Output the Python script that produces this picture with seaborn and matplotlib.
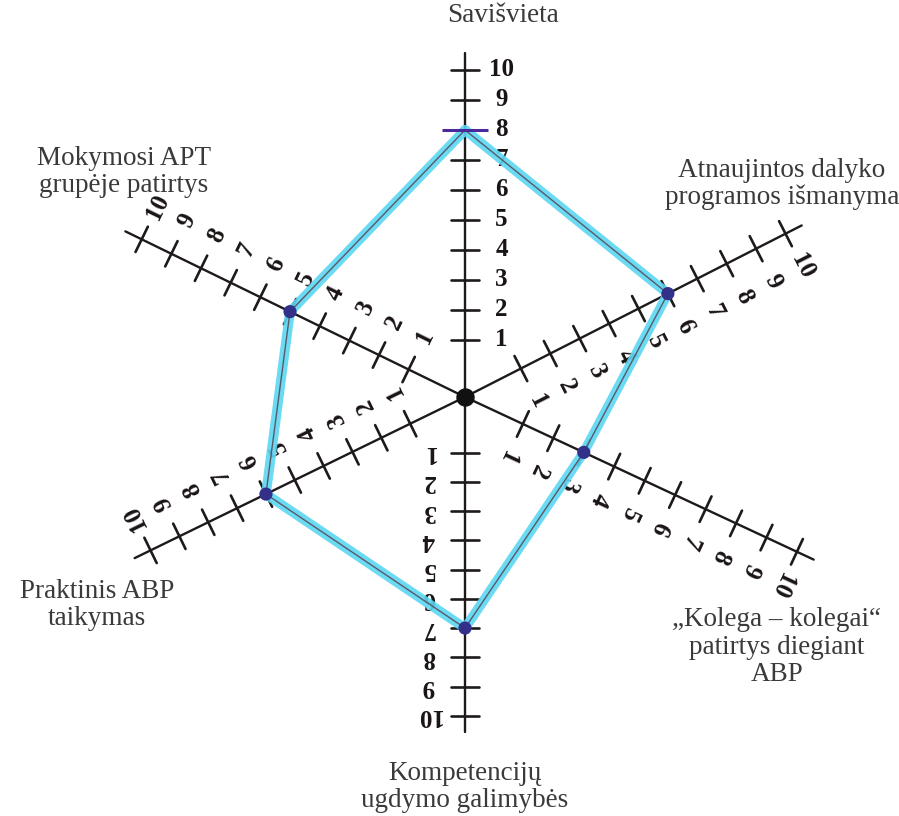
import numpy as np
import pandas as pd
import matplotlib
matplotlib.use("Agg")
import matplotlib.pyplot as plt
import seaborn as sns

# ---- data ----
categories = [
    "Savišvieta",
    "Atnaujintos dalyko\nprogramos išmanyma",
    "\u201eKolega \u2013 kolegai\u201c\npatirtys diegiant\nABP",
    "Kompetencijų\nugdymo galimybės",
    "Praktinis ABP\ntaikymas",
    "Mokymosi APT\ngrupėje patirtys",
]
values = [8, 6, 3, 7, 6, 5]
tick_values = [1, 2, 3, 4, 5, 6, 7, 8, 9, 10]

# ---- layout (hand-drawn axis directions / stretch) ----
angles_deg = [90, 27, -25, -90, 206, 154]
axis_stretch = [1.0, 1.1, 1.12, 0.975, 1.07, 1.1]
r_offset = 0.9          # tick "1" sits a bit away from centre
axis_end = 11.45
tick_half = 0.47
label_off = 1.22
PX = 30.0               # pixels per unit
cx, cy = 465, 397       # centre in image px
W, H = 899, 816
label_pos_px = [(503, 15), (782, 184), (777, 647), (465, 787), (97, 605), (124, 172)]

sns.set_theme(style="white")
plt.rcParams["font.family"] = ["Liberation Serif", "DejaVu Serif"]

fig = plt.figure(figsize=(W / 100, H / 100), dpi=100)
ax = fig.add_axes([0, 0, 1, 1])
ax.set_xlim(-cx / PX, (W - cx) / PX)
ax.set_ylim(-(H - cy) / PX, cy / PX)
ax.set_aspect("equal")
ax.axis("off")

axis_col = "#1e1a1a"
for th_deg, k in zip(angles_deg, axis_stretch):
    th = np.deg2rad(th_deg)
    u = np.array([np.cos(th), np.sin(th)])
    p = np.array([-np.sin(th), np.cos(th)])  # CCW perpendicular
    end = axis_end * k
    ax.plot([0, end * u[0]], [0, end * u[1]], color=axis_col, lw=1.7, zorder=2)
    for t in tick_values:
        c = (t + r_offset) * k * u
        a = c + tick_half * p
        b = c - tick_half * p
        ax.plot([a[0], b[0]], [a[1], b[1]], color=axis_col, lw=1.9, zorder=2)
        lp = c - label_off * p  # clockwise side
        ax.text(lp[0], lp[1], str(t), rotation=th_deg - 90, rotation_mode="anchor",
                ha="center", va="center", fontsize=18, fontweight="bold",
                color="#1a1414", zorder=3)

# centre dot
ax.scatter([0], [0], s=150, color="#111111", zorder=6)

# data polygon
th = np.deg2rad(angles_deg)
r = (np.array(values) + r_offset) * np.array(axis_stretch)
df = pd.DataFrame({
    "category": categories,
    "x": r * np.cos(th),
    "y": r * np.sin(th),
})
df_closed = pd.concat([df, df.iloc[[0]]], ignore_index=True)

sns.lineplot(data=df_closed, x="x", y="y", sort=False, estimator=None,
             color="#5bd6f2", lw=7, alpha=0.9, ax=ax, zorder=4)
sns.lineplot(data=df_closed, x="x", y="y", sort=False, estimator=None,
             color="#5a5a6a", lw=1.0, ax=ax, zorder=5)
sns.scatterplot(data=df.iloc[1:], x="x", y="y", s=90, color="#33308a",
                edgecolor="none", ax=ax, zorder=7)
sns.scatterplot(data=df.iloc[[0]], x="x", y="y", s=1100, marker="_",
                color="#4a2a9a", linewidth=2.2, ax=ax, zorder=7)

# category labels
for lab, (px, py) in zip(categories, label_pos_px):
    ax.text((px - cx) / PX, (cy - py) / PX, lab, ha="center", va="center",
            fontsize=19.5, color="#3a3a3a", linespacing=1.12, zorder=3)

ax.set_xlim(-cx / PX, (W - cx) / PX)
ax.set_ylim(-(H - cy) / PX, cy / PX)
fig.savefig("out.png", dpi=100)
